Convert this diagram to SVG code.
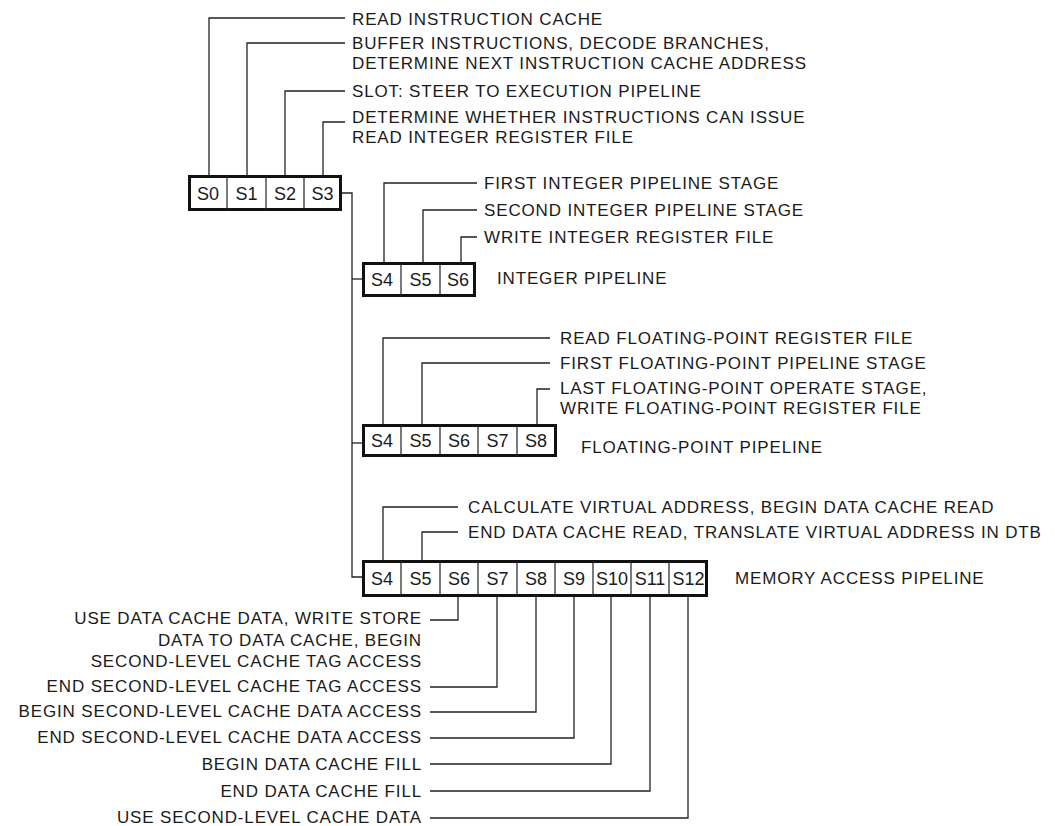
<svg xmlns="http://www.w3.org/2000/svg" width="1055" height="826" viewBox="0 0 1055 826">
<style>
.t{font-family:"Liberation Sans",Arial,Helvetica,sans-serif;font-size:17px;letter-spacing:0.85px;fill:#1a1a1a}
.e{text-anchor:end}
.c{font-family:"Liberation Sans",Arial,Helvetica,sans-serif;font-size:18px;text-anchor:middle;fill:#1a1a1a}
.ln{fill:none;stroke:#222;stroke-width:1.3}
.box{fill:#fff;stroke:#111;stroke-width:3}
.dv{stroke:#222;stroke-width:1.2}
</style>
<rect width="1055" height="826" fill="#fff"/>
<g id="connectors">
  <!-- top leaders -->
  <polyline class="ln" points="209,175 209,18 345,18"/>
  <polyline class="ln" points="247,175 247,43 345,43"/>
  <polyline class="ln" points="285,175 285,91 345,91"/>
  <polyline class="ln" points="323,175 323,122 345,122"/>
  <!-- trunk -->
  <polyline class="ln" points="342,193 352,193 352,577 362,577"/>
  <line class="ln" x1="352" y1="279" x2="362" y2="279"/>
  <line class="ln" x1="352" y1="443" x2="362" y2="443"/>
  <!-- integer leaders -->
  <polyline class="ln" points="384,262 384,183 477,183"/>
  <polyline class="ln" points="423,262 423,210 477,210"/>
  <polyline class="ln" points="461,262 461,237 477,237"/>
  <!-- fp leaders -->
  <polyline class="ln" points="383,424 383,338 550,338"/>
  <polyline class="ln" points="422,424 422,363 550,363"/>
  <polyline class="ln" points="537,424 537,389 550,389"/>
  <!-- memory leaders top -->
  <polyline class="ln" points="383,560 383,507 458,507"/>
  <polyline class="ln" points="422,560 422,532 458,532"/>
  <!-- memory leaders bottom -->
  <polyline class="ln" points="458,597 458,620 430,620"/>
  <polyline class="ln" points="497,597 497,687 430,687"/>
  <polyline class="ln" points="536,597 536,712 430,712"/>
  <polyline class="ln" points="574,597 574,738 430,738"/>
  <polyline class="ln" points="611,597 611,764 430,764"/>
  <polyline class="ln" points="650,597 650,791 430,791"/>
  <polyline class="ln" points="688,597 688,818 430,818"/>
</g>
<g id="fetch-stages">
  <rect class="box" x="189.5" y="176.5" width="151" height="33"/>
  <line class="dv" x1="227" y1="176" x2="227" y2="210"/>
  <line class="dv" x1="266" y1="176" x2="266" y2="210"/>
  <line class="dv" x1="304" y1="176" x2="304" y2="210"/>
  <text class="c" x="208" y="199.5">S0</text>
  <text class="c" x="246.5" y="199.5">S1</text>
  <text class="c" x="285" y="199.5">S2</text>
  <text class="c" x="322.5" y="199.5">S3</text>
  <text class="t" x="352" y="25.4">READ INSTRUCTION CACHE</text>
  <text class="t" x="352" y="49.4">BUFFER INSTRUCTIONS, DECODE BRANCHES,</text>
  <text class="t" x="352" y="69.4">DETERMINE NEXT INSTRUCTION CACHE ADDRESS</text>
  <text class="t" x="352" y="96.6">SLOT: STEER TO EXECUTION PIPELINE</text>
  <text class="t" x="352" y="122.8">DETERMINE WHETHER INSTRUCTIONS CAN ISSUE</text>
  <text class="t" x="352" y="143.4">READ INTEGER REGISTER FILE</text>
</g>
<g id="integer-pipeline">
  <rect class="box" x="363.5" y="263.5" width="111" height="32"/>
  <line class="dv" x1="401" y1="263" x2="401" y2="296"/>
  <line class="dv" x1="440" y1="263" x2="440" y2="296"/>
  <text class="c" x="382" y="286">S4</text>
  <text class="c" x="420.5" y="286">S5</text>
  <text class="c" x="458" y="286">S6</text>
  <text class="t" x="484" y="189.4">FIRST INTEGER PIPELINE STAGE</text>
  <text class="t" x="484" y="216.1">SECOND INTEGER PIPELINE STAGE</text>
  <text class="t" x="484" y="242.8">WRITE INTEGER REGISTER FILE</text>
  <text class="t" x="497" y="284.4">INTEGER PIPELINE</text>
</g>
<g id="floating-point-pipeline">
  <rect class="box" x="363.5" y="425.5" width="192" height="30"/>
  <line class="dv" x1="401" y1="425" x2="401" y2="456"/>
  <line class="dv" x1="440" y1="425" x2="440" y2="456"/>
  <line class="dv" x1="478" y1="425" x2="478" y2="456"/>
  <line class="dv" x1="517" y1="425" x2="517" y2="456"/>
  <text class="c" x="382" y="447">S4</text>
  <text class="c" x="420.5" y="447">S5</text>
  <text class="c" x="459" y="447">S6</text>
  <text class="c" x="497.5" y="447">S7</text>
  <text class="c" x="536" y="447">S8</text>
  <text class="t" x="560" y="344.4">READ FLOATING-POINT REGISTER FILE</text>
  <text class="t" x="560" y="368.8">FIRST FLOATING-POINT PIPELINE STAGE</text>
  <text class="t" x="560" y="394.4">LAST FLOATING-POINT OPERATE STAGE,</text>
  <text class="t" x="560" y="414.4">WRITE FLOATING-POINT REGISTER FILE</text>
  <text class="t" x="581" y="452.8">FLOATING-POINT PIPELINE</text>
</g>
<g id="memory-access-pipeline">
  <rect class="box" x="363.5" y="561.5" width="343" height="34"/>
  <line class="dv" x1="401" y1="561" x2="401" y2="596"/>
  <line class="dv" x1="440" y1="561" x2="440" y2="596"/>
  <line class="dv" x1="478" y1="561" x2="478" y2="596"/>
  <line class="dv" x1="517" y1="561" x2="517" y2="596"/>
  <line class="dv" x1="555" y1="561" x2="555" y2="596"/>
  <line class="dv" x1="593" y1="561" x2="593" y2="596"/>
  <line class="dv" x1="631" y1="561" x2="631" y2="596"/>
  <line class="dv" x1="669" y1="561" x2="669" y2="596"/>
  <text class="c" x="382" y="585">S4</text>
  <text class="c" x="420.5" y="585">S5</text>
  <text class="c" x="459" y="585">S6</text>
  <text class="c" x="497.5" y="585">S7</text>
  <text class="c" x="536" y="585">S8</text>
  <text class="c" x="574" y="585">S9</text>
  <text class="c" x="612" y="585">S10</text>
  <text class="c" x="650" y="585">S11</text>
  <text class="c" x="688.5" y="585">S12</text>
  <text class="t" x="468" y="513.4">CALCULATE VIRTUAL ADDRESS, BEGIN DATA CACHE READ</text>
  <text class="t" x="468" y="537.8">END DATA CACHE READ, TRANSLATE VIRTUAL ADDRESS IN DTB</text>
  <text class="t" x="735" y="584">MEMORY ACCESS PIPELINE</text>
  <text class="t e" x="422" y="624.4">USE DATA CACHE DATA, WRITE STORE</text>
  <text class="t e" x="422" y="646.1">DATA TO DATA CACHE, BEGIN</text>
  <text class="t e" x="422" y="667.1">SECOND-LEVEL CACHE TAG ACCESS</text>
  <text class="t e" x="422" y="692.1">END SECOND-LEVEL CACHE TAG ACCESS</text>
  <text class="t e" x="422" y="717.1">BEGIN SECOND-LEVEL CACHE DATA ACCESS</text>
  <text class="t e" x="422" y="742.8">END SECOND-LEVEL CACHE DATA ACCESS</text>
  <text class="t e" x="422" y="770.1">BEGIN DATA CACHE FILL</text>
  <text class="t e" x="422" y="796.8">END DATA CACHE FILL</text>
  <text class="t e" x="422" y="823.4">USE SECOND-LEVEL CACHE DATA</text>
</g>
</svg>
